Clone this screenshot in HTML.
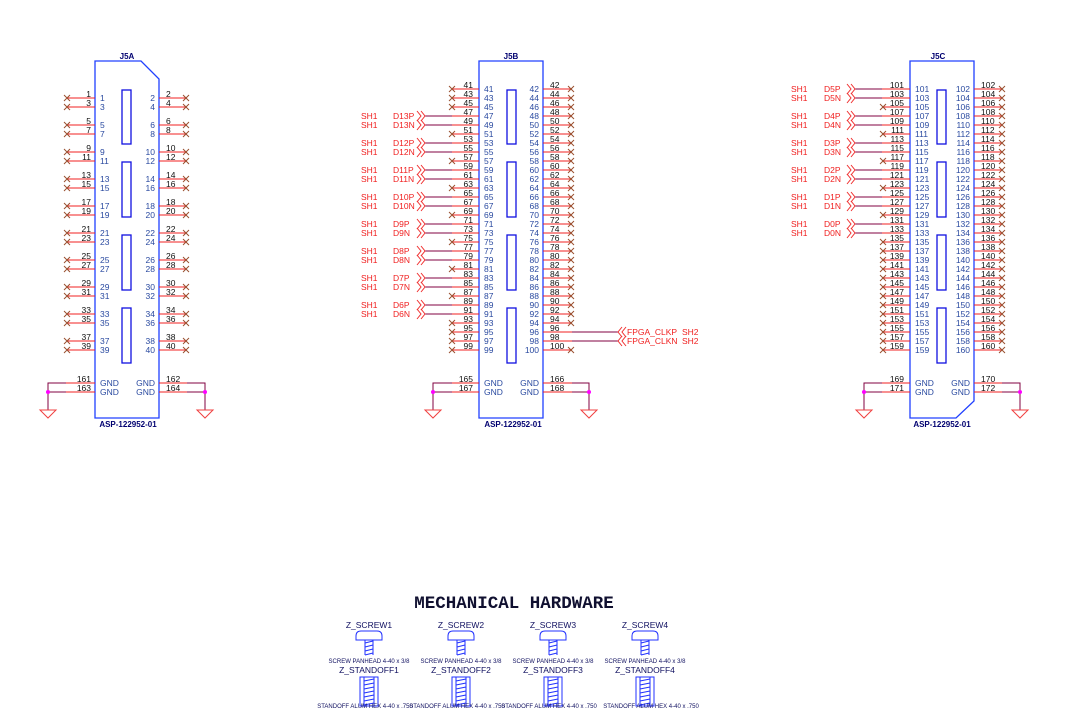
<!DOCTYPE html>
<html><head><meta charset="utf-8"><style>
html,body{margin:0;padding:0;background:#fff;}
svg{display:block;font-family:"Liberation Sans",sans-serif;}
.o{fill:#101010;font-size:8.5px}
.i{fill:#2a4aa0;font-size:8.5px}
.r{fill:#f02020;font-size:8.5px}
.t{fill:#000070;font-size:8px;font-weight:bold}
.e{text-anchor:end}
</style></head><body>
<svg width="1068" height="725" viewBox="0 0 1068 725" xmlns="http://www.w3.org/2000/svg">
<defs>
<path id="x" d="M-3-3L3 3M-3 3L3-3" stroke="#9a5030" stroke-width="1" fill="none"/>
<path id="cr" d="M-8-5L-4 0L-8 5M-4-5L0 0L-4 5" stroke="#f03030" fill="none"/>
<path id="cl" d="M8-5L4 0L8 5M4-5L0 0L4 5" stroke="#f03030" fill="none"/>
<path id="gd" d="M-8 0H8L0 8Z" stroke="#f04040" fill="none"/>
</defs>

<!-- ============ J5A ============ -->
<path d="M95 418V61H141L159 79V418Z" fill="none" stroke="#2040ff" stroke-width="1.3"/>
<g fill="none" stroke="#1010e0" stroke-width="1.3">
<rect x="122" y="90" width="9" height="54"/><rect x="122" y="162" width="9" height="55"/>
<rect x="122" y="235" width="9" height="55"/><rect x="122" y="308" width="9" height="55"/>
</g>
<path stroke="#f02020" d="M67 98H95M67 107H95M67 125H95M67 134H95M67 152H95M67 161H95M67 179H95M67 188H95M67 206H95M67 215H95M67 233H95M67 242H95M67 260H95M67 269H95M67 287H95M67 296H95M67 314H95M67 323H95M67 341H95M67 350H95
M159 98H187M159 107H187M159 125H187M159 134H187M159 152H187M159 161H187M159 179H187M159 188H187M159 206H187M159 215H187M159 233H187M159 242H187M159 260H187M159 269H187M159 287H187M159 296H187M159 314H187M159 323H187M159 341H187M159 350H187
M66 383H95M66 392H95M159 383H187M159 392H187"/>
<path stroke="#800040" fill="none" d="M66 383H48V410M48 392H66M187 383H205V410M187 392H205"/>
<circle cx="48" cy="392" r="2" fill="#ff00ff"/><circle cx="205" cy="392" r="2" fill="#ff00ff"/>
<use href="#gd" x="48" y="410"/><use href="#gd" x="205" y="410"/>
<g>
<use href="#x" x="67" y="98"/><use href="#x" x="67" y="107"/><use href="#x" x="67" y="125"/><use href="#x" x="67" y="134"/><use href="#x" x="67" y="152"/><use href="#x" x="67" y="161"/><use href="#x" x="67" y="179"/><use href="#x" x="67" y="188"/><use href="#x" x="67" y="206"/><use href="#x" x="67" y="215"/><use href="#x" x="67" y="233"/><use href="#x" x="67" y="242"/><use href="#x" x="67" y="260"/><use href="#x" x="67" y="269"/><use href="#x" x="67" y="287"/><use href="#x" x="67" y="296"/><use href="#x" x="67" y="314"/><use href="#x" x="67" y="323"/><use href="#x" x="67" y="341"/><use href="#x" x="67" y="350"/>
<use href="#x" x="186" y="98"/><use href="#x" x="186" y="107"/><use href="#x" x="186" y="125"/><use href="#x" x="186" y="134"/><use href="#x" x="186" y="152"/><use href="#x" x="186" y="161"/><use href="#x" x="186" y="179"/><use href="#x" x="186" y="188"/><use href="#x" x="186" y="206"/><use href="#x" x="186" y="215"/><use href="#x" x="186" y="233"/><use href="#x" x="186" y="242"/><use href="#x" x="186" y="260"/><use href="#x" x="186" y="269"/><use href="#x" x="186" y="287"/><use href="#x" x="186" y="296"/><use href="#x" x="186" y="314"/><use href="#x" x="186" y="323"/><use href="#x" x="186" y="341"/><use href="#x" x="186" y="350"/>
</g>
<g class="o e">
<text x="91" y="97">1</text><text x="91" y="106">3</text><text x="91" y="124">5</text><text x="91" y="133">7</text><text x="91" y="151">9</text><text x="91" y="160">11</text><text x="91" y="178">13</text><text x="91" y="187">15</text><text x="91" y="205">17</text><text x="91" y="214">19</text><text x="91" y="232">21</text><text x="91" y="241">23</text><text x="91" y="259">25</text><text x="91" y="268">27</text><text x="91" y="286">29</text><text x="91" y="295">31</text><text x="91" y="313">33</text><text x="91" y="322">35</text><text x="91" y="340">37</text><text x="91" y="349">39</text><text x="91" y="382">161</text><text x="91" y="391">163</text>
</g>
<g class="o">
<text x="166" y="97">2</text><text x="166" y="106">4</text><text x="166" y="124">6</text><text x="166" y="133">8</text><text x="166" y="151">10</text><text x="166" y="160">12</text><text x="166" y="178">14</text><text x="166" y="187">16</text><text x="166" y="205">18</text><text x="166" y="214">20</text><text x="166" y="232">22</text><text x="166" y="241">24</text><text x="166" y="259">26</text><text x="166" y="268">28</text><text x="166" y="286">30</text><text x="166" y="295">32</text><text x="166" y="313">34</text><text x="166" y="322">36</text><text x="166" y="340">38</text><text x="166" y="349">40</text><text x="166" y="382">162</text><text x="166" y="391">164</text>
</g>
<g class="i">
<text x="100" y="101">1</text><text x="100" y="110">3</text><text x="100" y="128">5</text><text x="100" y="137">7</text><text x="100" y="155">9</text><text x="100" y="164">11</text><text x="100" y="182">13</text><text x="100" y="191">15</text><text x="100" y="209">17</text><text x="100" y="218">19</text><text x="100" y="236">21</text><text x="100" y="245">23</text><text x="100" y="263">25</text><text x="100" y="272">27</text><text x="100" y="290">29</text><text x="100" y="299">31</text><text x="100" y="317">33</text><text x="100" y="326">35</text><text x="100" y="344">37</text><text x="100" y="353">39</text><text x="100" y="386">GND</text><text x="100" y="395">GND</text>
</g>
<g class="i e">
<text x="155" y="101">2</text><text x="155" y="110">4</text><text x="155" y="128">6</text><text x="155" y="137">8</text><text x="155" y="155">10</text><text x="155" y="164">12</text><text x="155" y="182">14</text><text x="155" y="191">16</text><text x="155" y="209">18</text><text x="155" y="218">20</text><text x="155" y="236">22</text><text x="155" y="245">24</text><text x="155" y="263">26</text><text x="155" y="272">28</text><text x="155" y="290">30</text><text x="155" y="299">32</text><text x="155" y="317">34</text><text x="155" y="326">36</text><text x="155" y="344">38</text><text x="155" y="353">40</text><text x="155" y="386">GND</text><text x="155" y="395">GND</text>
</g>
<text class="t" x="127" y="59" text-anchor="middle" font-size="8">J5A</text>
<text class="t" x="128" y="427" text-anchor="middle">ASP-122952-01</text>

<!-- ============ J5B ============ -->
<path d="M479 418V61H543V418Z" fill="none" stroke="#2040ff" stroke-width="1.3"/>
<g fill="none" stroke="#1010e0" stroke-width="1.3">
<rect x="507" y="90" width="9" height="54"/><rect x="507" y="162" width="9" height="55"/>
<rect x="507" y="235" width="9" height="55"/><rect x="507" y="308" width="9" height="55"/>
</g>
<path stroke="#f02020" d="M452 89H479M452 98H479M452 107H479M452 116H479M452 125H479M452 134H479M452 143H479M452 152H479M452 161H479M452 170H479M452 179H479M452 188H479M452 197H479M452 206H479M452 215H479M452 224H479M452 233H479M452 242H479M452 251H479M452 260H479M452 269H479M452 278H479M452 287H479M452 296H479M452 305H479M452 314H479M452 323H479M452 332H479M452 341H479M452 350H479
M543 89H572M543 98H572M543 107H572M543 116H572M543 125H572M543 134H572M543 143H572M543 152H572M543 161H572M543 170H572M543 179H572M543 188H572M543 197H572M543 206H572M543 215H572M543 224H572M543 233H572M543 242H572M543 251H572M543 260H572M543 269H572M543 278H572M543 287H572M543 296H572M543 305H572M543 314H572M543 323H572M543 332H572M543 341H572M543 350H572
M452 383H479M452 392H479M543 383H572M543 392H572"/>
<path stroke="#800040" fill="none" d="M425 116H452M425 125H452M425 143H452M425 152H452M425 170H452M425 179H452M425 197H452M425 206H452M425 224H452M425 233H452M425 251H452M425 260H452M425 278H452M425 287H452M425 305H452M425 314H452M572 332H618M572 341H618
M452 383H433V410M433 392H452M572 383H589V410M572 392H589"/>
<circle cx="433" cy="392" r="2" fill="#ff00ff"/><circle cx="589" cy="392" r="2" fill="#ff00ff"/>
<use href="#gd" x="433" y="410"/><use href="#gd" x="589" y="410"/>
<g>
<use href="#cr" x="425" y="116"/><use href="#cr" x="425" y="125"/><use href="#cr" x="425" y="143"/><use href="#cr" x="425" y="152"/><use href="#cr" x="425" y="170"/><use href="#cr" x="425" y="179"/><use href="#cr" x="425" y="197"/><use href="#cr" x="425" y="206"/><use href="#cr" x="425" y="224"/><use href="#cr" x="425" y="233"/><use href="#cr" x="425" y="251"/><use href="#cr" x="425" y="260"/><use href="#cr" x="425" y="278"/><use href="#cr" x="425" y="287"/><use href="#cr" x="425" y="305"/><use href="#cr" x="425" y="314"/>
<use href="#cl" x="618" y="332"/><use href="#cl" x="618" y="341"/>
<use href="#x" x="452" y="89"/><use href="#x" x="452" y="98"/><use href="#x" x="452" y="107"/><use href="#x" x="452" y="134"/><use href="#x" x="452" y="161"/><use href="#x" x="452" y="188"/><use href="#x" x="452" y="215"/><use href="#x" x="452" y="242"/><use href="#x" x="452" y="269"/><use href="#x" x="452" y="296"/><use href="#x" x="452" y="323"/><use href="#x" x="452" y="332"/><use href="#x" x="452" y="341"/><use href="#x" x="452" y="350"/>
<use href="#x" x="571" y="89"/><use href="#x" x="571" y="98"/><use href="#x" x="571" y="107"/><use href="#x" x="571" y="116"/><use href="#x" x="571" y="125"/><use href="#x" x="571" y="134"/><use href="#x" x="571" y="143"/><use href="#x" x="571" y="152"/><use href="#x" x="571" y="161"/><use href="#x" x="571" y="170"/><use href="#x" x="571" y="179"/><use href="#x" x="571" y="188"/><use href="#x" x="571" y="197"/><use href="#x" x="571" y="206"/><use href="#x" x="571" y="215"/><use href="#x" x="571" y="224"/><use href="#x" x="571" y="233"/><use href="#x" x="571" y="242"/><use href="#x" x="571" y="251"/><use href="#x" x="571" y="260"/><use href="#x" x="571" y="269"/><use href="#x" x="571" y="278"/><use href="#x" x="571" y="287"/><use href="#x" x="571" y="296"/><use href="#x" x="571" y="305"/><use href="#x" x="571" y="314"/><use href="#x" x="571" y="323"/><use href="#x" x="571" y="350"/>
</g>
<g class="o e">
<text x="473" y="88">41</text><text x="473" y="97">43</text><text x="473" y="106">45</text><text x="473" y="115">47</text><text x="473" y="124">49</text><text x="473" y="133">51</text><text x="473" y="142">53</text><text x="473" y="151">55</text><text x="473" y="160">57</text><text x="473" y="169">59</text><text x="473" y="178">61</text><text x="473" y="187">63</text><text x="473" y="196">65</text><text x="473" y="205">67</text><text x="473" y="214">69</text><text x="473" y="223">71</text><text x="473" y="232">73</text><text x="473" y="241">75</text><text x="473" y="250">77</text><text x="473" y="259">79</text><text x="473" y="268">81</text><text x="473" y="277">83</text><text x="473" y="286">85</text><text x="473" y="295">87</text><text x="473" y="304">89</text><text x="473" y="313">91</text><text x="473" y="322">93</text><text x="473" y="331">95</text><text x="473" y="340">97</text><text x="473" y="349">99</text><text x="473" y="382">165</text><text x="473" y="391">167</text>
</g>
<g class="o">
<text x="550" y="88">42</text><text x="550" y="97">44</text><text x="550" y="106">46</text><text x="550" y="115">48</text><text x="550" y="124">50</text><text x="550" y="133">52</text><text x="550" y="142">54</text><text x="550" y="151">56</text><text x="550" y="160">58</text><text x="550" y="169">60</text><text x="550" y="178">62</text><text x="550" y="187">64</text><text x="550" y="196">66</text><text x="550" y="205">68</text><text x="550" y="214">70</text><text x="550" y="223">72</text><text x="550" y="232">74</text><text x="550" y="241">76</text><text x="550" y="250">78</text><text x="550" y="259">80</text><text x="550" y="268">82</text><text x="550" y="277">84</text><text x="550" y="286">86</text><text x="550" y="295">88</text><text x="550" y="304">90</text><text x="550" y="313">92</text><text x="550" y="322">94</text><text x="550" y="331">96</text><text x="550" y="340">98</text><text x="550" y="349">100</text><text x="550" y="382">166</text><text x="550" y="391">168</text>
</g>
<g class="i">
<text x="484" y="92">41</text><text x="484" y="101">43</text><text x="484" y="110">45</text><text x="484" y="119">47</text><text x="484" y="128">49</text><text x="484" y="137">51</text><text x="484" y="146">53</text><text x="484" y="155">55</text><text x="484" y="164">57</text><text x="484" y="173">59</text><text x="484" y="182">61</text><text x="484" y="191">63</text><text x="484" y="200">65</text><text x="484" y="209">67</text><text x="484" y="218">69</text><text x="484" y="227">71</text><text x="484" y="236">73</text><text x="484" y="245">75</text><text x="484" y="254">77</text><text x="484" y="263">79</text><text x="484" y="272">81</text><text x="484" y="281">83</text><text x="484" y="290">85</text><text x="484" y="299">87</text><text x="484" y="308">89</text><text x="484" y="317">91</text><text x="484" y="326">93</text><text x="484" y="335">95</text><text x="484" y="344">97</text><text x="484" y="353">99</text><text x="484" y="386">GND</text><text x="484" y="395">GND</text>
</g>
<g class="i e">
<text x="539" y="92">42</text><text x="539" y="101">44</text><text x="539" y="110">46</text><text x="539" y="119">48</text><text x="539" y="128">50</text><text x="539" y="137">52</text><text x="539" y="146">54</text><text x="539" y="155">56</text><text x="539" y="164">58</text><text x="539" y="173">60</text><text x="539" y="182">62</text><text x="539" y="191">64</text><text x="539" y="200">66</text><text x="539" y="209">68</text><text x="539" y="218">70</text><text x="539" y="227">72</text><text x="539" y="236">74</text><text x="539" y="245">76</text><text x="539" y="254">78</text><text x="539" y="263">80</text><text x="539" y="272">82</text><text x="539" y="281">84</text><text x="539" y="290">86</text><text x="539" y="299">88</text><text x="539" y="308">90</text><text x="539" y="317">92</text><text x="539" y="326">94</text><text x="539" y="335">96</text><text x="539" y="344">98</text><text x="539" y="353">100</text><text x="539" y="386">GND</text><text x="539" y="395">GND</text>
</g>
<g class="r">
<text x="361" y="119">SH1</text><text x="393" y="119">D13P</text><text x="361" y="128">SH1</text><text x="393" y="128">D13N</text>
<text x="361" y="146">SH1</text><text x="393" y="146">D12P</text><text x="361" y="155">SH1</text><text x="393" y="155">D12N</text>
<text x="361" y="173">SH1</text><text x="393" y="173">D11P</text><text x="361" y="182">SH1</text><text x="393" y="182">D11N</text>
<text x="361" y="200">SH1</text><text x="393" y="200">D10P</text><text x="361" y="209">SH1</text><text x="393" y="209">D10N</text>
<text x="361" y="227">SH1</text><text x="393" y="227">D9P</text><text x="361" y="236">SH1</text><text x="393" y="236">D9N</text>
<text x="361" y="254">SH1</text><text x="393" y="254">D8P</text><text x="361" y="263">SH1</text><text x="393" y="263">D8N</text>
<text x="361" y="281">SH1</text><text x="393" y="281">D7P</text><text x="361" y="290">SH1</text><text x="393" y="290">D7N</text>
<text x="361" y="308">SH1</text><text x="393" y="308">D6P</text><text x="361" y="317">SH1</text><text x="393" y="317">D6N</text>
<text x="627" y="335">FPGA_CLKP</text><text x="682" y="335">SH2</text>
<text x="627" y="344">FPGA_CLKN</text><text x="682" y="344">SH2</text>
</g>
<text class="t" x="511" y="59" text-anchor="middle">J5B</text>
<text class="t" x="513" y="427" text-anchor="middle">ASP-122952-01</text>

<!-- ============ J5C ============ -->
<path d="M910 418V61H974V401L956 418Z" fill="none" stroke="#2040ff" stroke-width="1.3"/>
<g fill="none" stroke="#1010e0" stroke-width="1.3">
<rect x="937" y="90" width="9" height="54"/><rect x="937" y="162" width="9" height="55"/>
<rect x="937" y="235" width="9" height="55"/><rect x="937" y="308" width="9" height="55"/>
</g>
<path stroke="#f02020" d="M882 89H910M882 98H910M882 107H910M882 116H910M882 125H910M882 134H910M882 143H910M882 152H910M882 161H910M882 170H910M882 179H910M882 188H910M882 197H910M882 206H910M882 215H910M882 224H910M882 233H910M882 242H910M882 251H910M882 260H910M882 269H910M882 278H910M882 287H910M882 296H910M882 305H910M882 314H910M882 323H910M882 332H910M882 341H910M882 350H910
M974 89H1002M974 98H1002M974 107H1002M974 116H1002M974 125H1002M974 134H1002M974 143H1002M974 152H1002M974 161H1002M974 170H1002M974 179H1002M974 188H1002M974 197H1002M974 206H1002M974 215H1002M974 224H1002M974 233H1002M974 242H1002M974 251H1002M974 260H1002M974 269H1002M974 278H1002M974 287H1002M974 296H1002M974 305H1002M974 314H1002M974 323H1002M974 332H1002M974 341H1002M974 350H1002
M882 383H910M882 392H910M974 383H1002M974 392H1002"/>
<path stroke="#800040" fill="none" d="M855 89H882M855 98H882M855 116H882M855 125H882M855 143H882M855 152H882M855 170H882M855 179H882M855 197H882M855 206H882M855 224H882M855 233H882
M882 383H864V410M864 392H882M1002 383H1020V410M1002 392H1020"/>
<circle cx="864" cy="392" r="2" fill="#ff00ff"/><circle cx="1020" cy="392" r="2" fill="#ff00ff"/>
<use href="#gd" x="864" y="410"/><use href="#gd" x="1020" y="410"/>
<g>
<use href="#cr" x="855" y="89"/><use href="#cr" x="855" y="98"/><use href="#cr" x="855" y="116"/><use href="#cr" x="855" y="125"/><use href="#cr" x="855" y="143"/><use href="#cr" x="855" y="152"/><use href="#cr" x="855" y="170"/><use href="#cr" x="855" y="179"/><use href="#cr" x="855" y="197"/><use href="#cr" x="855" y="206"/><use href="#cr" x="855" y="224"/><use href="#cr" x="855" y="233"/>
<use href="#x" x="883" y="107"/><use href="#x" x="883" y="134"/><use href="#x" x="883" y="161"/><use href="#x" x="883" y="188"/><use href="#x" x="883" y="215"/><use href="#x" x="883" y="242"/><use href="#x" x="883" y="251"/><use href="#x" x="883" y="260"/><use href="#x" x="883" y="269"/><use href="#x" x="883" y="278"/><use href="#x" x="883" y="287"/><use href="#x" x="883" y="296"/><use href="#x" x="883" y="305"/><use href="#x" x="883" y="314"/><use href="#x" x="883" y="323"/><use href="#x" x="883" y="332"/><use href="#x" x="883" y="341"/><use href="#x" x="883" y="350"/>
<use href="#x" x="1002" y="89"/><use href="#x" x="1002" y="98"/><use href="#x" x="1002" y="107"/><use href="#x" x="1002" y="116"/><use href="#x" x="1002" y="125"/><use href="#x" x="1002" y="134"/><use href="#x" x="1002" y="143"/><use href="#x" x="1002" y="152"/><use href="#x" x="1002" y="161"/><use href="#x" x="1002" y="170"/><use href="#x" x="1002" y="179"/><use href="#x" x="1002" y="188"/><use href="#x" x="1002" y="197"/><use href="#x" x="1002" y="206"/><use href="#x" x="1002" y="215"/><use href="#x" x="1002" y="224"/><use href="#x" x="1002" y="233"/><use href="#x" x="1002" y="242"/><use href="#x" x="1002" y="251"/><use href="#x" x="1002" y="260"/><use href="#x" x="1002" y="269"/><use href="#x" x="1002" y="278"/><use href="#x" x="1002" y="287"/><use href="#x" x="1002" y="296"/><use href="#x" x="1002" y="305"/><use href="#x" x="1002" y="314"/><use href="#x" x="1002" y="323"/><use href="#x" x="1002" y="332"/><use href="#x" x="1002" y="341"/><use href="#x" x="1002" y="350"/>
</g>
<g class="o e">
<text x="904" y="88">101</text><text x="904" y="97">103</text><text x="904" y="106">105</text><text x="904" y="115">107</text><text x="904" y="124">109</text><text x="904" y="133">111</text><text x="904" y="142">113</text><text x="904" y="151">115</text><text x="904" y="160">117</text><text x="904" y="169">119</text><text x="904" y="178">121</text><text x="904" y="187">123</text><text x="904" y="196">125</text><text x="904" y="205">127</text><text x="904" y="214">129</text><text x="904" y="223">131</text><text x="904" y="232">133</text><text x="904" y="241">135</text><text x="904" y="250">137</text><text x="904" y="259">139</text><text x="904" y="268">141</text><text x="904" y="277">143</text><text x="904" y="286">145</text><text x="904" y="295">147</text><text x="904" y="304">149</text><text x="904" y="313">151</text><text x="904" y="322">153</text><text x="904" y="331">155</text><text x="904" y="340">157</text><text x="904" y="349">159</text><text x="904" y="382">169</text><text x="904" y="391">171</text>
</g>
<g class="o">
<text x="981" y="88">102</text><text x="981" y="97">104</text><text x="981" y="106">106</text><text x="981" y="115">108</text><text x="981" y="124">110</text><text x="981" y="133">112</text><text x="981" y="142">114</text><text x="981" y="151">116</text><text x="981" y="160">118</text><text x="981" y="169">120</text><text x="981" y="178">122</text><text x="981" y="187">124</text><text x="981" y="196">126</text><text x="981" y="205">128</text><text x="981" y="214">130</text><text x="981" y="223">132</text><text x="981" y="232">134</text><text x="981" y="241">136</text><text x="981" y="250">138</text><text x="981" y="259">140</text><text x="981" y="268">142</text><text x="981" y="277">144</text><text x="981" y="286">146</text><text x="981" y="295">148</text><text x="981" y="304">150</text><text x="981" y="313">152</text><text x="981" y="322">154</text><text x="981" y="331">156</text><text x="981" y="340">158</text><text x="981" y="349">160</text><text x="981" y="382">170</text><text x="981" y="391">172</text>
</g>
<g class="i">
<text x="915" y="92">101</text><text x="915" y="101">103</text><text x="915" y="110">105</text><text x="915" y="119">107</text><text x="915" y="128">109</text><text x="915" y="137">111</text><text x="915" y="146">113</text><text x="915" y="155">115</text><text x="915" y="164">117</text><text x="915" y="173">119</text><text x="915" y="182">121</text><text x="915" y="191">123</text><text x="915" y="200">125</text><text x="915" y="209">127</text><text x="915" y="218">129</text><text x="915" y="227">131</text><text x="915" y="236">133</text><text x="915" y="245">135</text><text x="915" y="254">137</text><text x="915" y="263">139</text><text x="915" y="272">141</text><text x="915" y="281">143</text><text x="915" y="290">145</text><text x="915" y="299">147</text><text x="915" y="308">149</text><text x="915" y="317">151</text><text x="915" y="326">153</text><text x="915" y="335">155</text><text x="915" y="344">157</text><text x="915" y="353">159</text><text x="915" y="386">GND</text><text x="915" y="395">GND</text>
</g>
<g class="i e">
<text x="970" y="92">102</text><text x="970" y="101">104</text><text x="970" y="110">106</text><text x="970" y="119">108</text><text x="970" y="128">110</text><text x="970" y="137">112</text><text x="970" y="146">114</text><text x="970" y="155">116</text><text x="970" y="164">118</text><text x="970" y="173">120</text><text x="970" y="182">122</text><text x="970" y="191">124</text><text x="970" y="200">126</text><text x="970" y="209">128</text><text x="970" y="218">130</text><text x="970" y="227">132</text><text x="970" y="236">134</text><text x="970" y="245">136</text><text x="970" y="254">138</text><text x="970" y="263">140</text><text x="970" y="272">142</text><text x="970" y="281">144</text><text x="970" y="290">146</text><text x="970" y="299">148</text><text x="970" y="308">150</text><text x="970" y="317">152</text><text x="970" y="326">154</text><text x="970" y="335">156</text><text x="970" y="344">158</text><text x="970" y="353">160</text><text x="970" y="386">GND</text><text x="970" y="395">GND</text>
</g>
<g class="r">
<text x="791" y="92">SH1</text><text x="824" y="92">D5P</text><text x="791" y="101">SH1</text><text x="824" y="101">D5N</text>
<text x="791" y="119">SH1</text><text x="824" y="119">D4P</text><text x="791" y="128">SH1</text><text x="824" y="128">D4N</text>
<text x="791" y="146">SH1</text><text x="824" y="146">D3P</text><text x="791" y="155">SH1</text><text x="824" y="155">D3N</text>
<text x="791" y="173">SH1</text><text x="824" y="173">D2P</text><text x="791" y="182">SH1</text><text x="824" y="182">D2N</text>
<text x="791" y="200">SH1</text><text x="824" y="200">D1P</text><text x="791" y="209">SH1</text><text x="824" y="209">D1N</text>
<text x="791" y="227">SH1</text><text x="824" y="227">D0P</text><text x="791" y="236">SH1</text><text x="824" y="236">D0N</text>
</g>
<text class="t" x="938" y="59" text-anchor="middle">J5C</text>
<text class="t" x="942" y="427" text-anchor="middle">ASP-122952-01</text>

<!-- ============ Mechanical hardware ============ -->
<text x="514" y="608" text-anchor="middle" font-family="Liberation Mono, monospace" font-weight="bold" font-size="17.5" fill="#101030">MECHANICAL HARDWARE</text>
<defs>
<g id="scr" fill="none" stroke="#2030ff" stroke-width="1">
<path d="M-4 640V655M4 640V655M-13 640V636Q-13 631-8 631H8Q13 631 13 636V640Z"/>
<path d="M-4 643L4 641M-4 647L4 645M-4 651L4 649M-4 655L4 653"/>
</g>
<g id="std" fill="none" stroke="#2030ff" stroke-width="1">
<rect x="-9" y="677" width="18" height="29"/>
<path d="M-5 677V706M5 677V706M-5 681L5 679M-5 685L5 683M-5 689L5 687M-5 693L5 691M-5 697L5 695M-5 701L5 699M-5 705L5 703"/>
</g>
</defs>
<use href="#scr" x="369"/><use href="#scr" x="461"/><use href="#scr" x="553"/><use href="#scr" x="645"/>
<use href="#std" x="369"/><use href="#std" x="461"/><use href="#std" x="553"/><use href="#std" x="645"/>
<g fill="#101060" font-size="8.5" text-anchor="middle">
<text x="369" y="628">Z_SCREW1</text><text x="461" y="628">Z_SCREW2</text><text x="553" y="628">Z_SCREW3</text><text x="645" y="628">Z_SCREW4</text>
<text x="369" y="673">Z_STANDOFF1</text><text x="461" y="673">Z_STANDOFF2</text><text x="553" y="673">Z_STANDOFF3</text><text x="645" y="673">Z_STANDOFF4</text>
</g>
<g fill="#101060" font-size="6" text-anchor="middle">
<text x="369" y="663">SCREW PANHEAD 4-40 x 3/8</text><text x="461" y="663">SCREW PANHEAD 4-40 x 3/8</text><text x="553" y="663">SCREW PANHEAD 4-40 x 3/8</text><text x="645" y="663">SCREW PANHEAD 4-40 x 3/8</text>
<text x="365" y="708">STANDOFF ALUM HEX 4-40 x .750</text><text x="457" y="708">STANDOFF ALUM HEX 4-40 x .750</text><text x="549" y="708">STANDOFF ALUM HEX 4-40 x .750</text><text x="651" y="708">STANDOFF ALUM HEX 4-40 x .750</text>
</g>
</svg>
</body></html>
